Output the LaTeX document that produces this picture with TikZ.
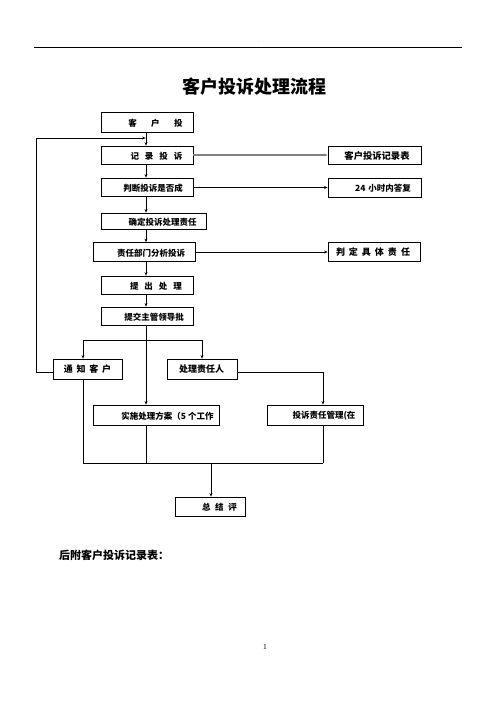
\documentclass[tikz,border=0pt]{standalone}
\usepackage{fontspec}
\setmainfont{Liberation Serif}
\newfontfamily\cjk{Noto Sans CJK SC}
\usetikzlibrary{arrows.meta}
\newcommand{\gp}[1]{\hspace{#1pt}}
\begin{document}
\begin{tikzpicture}[x=1pt,y=-1pt,
  box/.style={draw,line width=0.8pt,inner sep=0pt,minimum width=#1},
  box/.default=92pt,
  lbl/.style={font=\cjk\bfseries\fontsize{8.5}{9}\selectfont,inner sep=0pt},
  con/.style={line width=0.8pt},
  arr/.style={line width=0.8pt,-{Stealth[length=3.5pt,width=3pt]}},
  garr/.style={line width=1.4pt,gray,-{Stealth[length=3.5pt,width=3pt]}}]
\useasboundingbox (0,0) rectangle (496,702);
% header
\coordinate (hl) at (34,47);
\coordinate (hr) at (462,47);
\draw[line width=1pt] (hl) -- (hr);
\node[font=\fontsize{5}{5}\selectfont,text=gray!70,inner sep=0pt] (hd) at (261,42) {.\ .\ .};
% title
\node[font=\cjk\bfseries\fontsize{18}{20}\selectfont,inner sep=0pt] (title) at (254,87) {客户投诉处理流程};
% spine
\coordinate (sp) at (146,0);
% main column boxes
\node[box,minimum height=20pt] (b1) at (147,122) {};
\node[lbl] (b1t) at (155.5,123) {客\gp{14.5}户\gp{14.5}投};
\node[box,minimum height=18pt] (b2) at (147,155) {};
\node[lbl] (b2t) at (156.5,156) {记\gp{6}录\gp{6}投\gp{6}诉};
\node[box,minimum height=18pt] (b3) at (147,187) {};
\node[lbl] (b3t) at (153,188) {判断投诉是否成};
\node[box=105pt,minimum height=16pt] (b4) at (153.5,221) {};
\node[lbl] (b4t) at (162.5,222) {确定投诉处理责任};
\node[box=102pt,minimum height=19pt] (b5) at (144,252) {};
\node[lbl] (b5t) at (151,253) {责任部门分析投诉};
\node[box,minimum height=18pt] (b6) at (147,285) {};
\node[lbl] (b6t) at (156,286) {提\gp{6}出\gp{6}处\gp{6}理};
\node[box,minimum height=18pt] (b7) at (147,316) {};
\node[lbl] (b7t) at (154,317) {提交主管领导批};
% right boxes
\node[box=93pt,minimum height=18pt] (r1) at (374.5,155) {};
\node[lbl,font=\cjk\bfseries\fontsize{9.3}{10}\selectfont] (r1t) at (377,155.5) {客户投诉记录表};
\node[box=93pt,minimum height=19pt] (r2) at (374.5,187.5) {};
\node[lbl] (r2t) at (383,188.5) {24\gp{3}小时内答复};
\node[box=92pt,minimum height=19pt] (r3) at (374,252) {};
\node[lbl,font=\cjk\bfseries\fontsize{9}{10}\selectfont] (r3t) at (373,252.5) {判\gp{4}定\gp{4}具\gp{4}体\gp{4}责\gp{4}任};
% second level
\node[box=69pt,minimum height=20pt] (n1) at (87.5,369) {};
\node[lbl,font=\cjk\bfseries\fontsize{9}{10}\selectfont] (n1t) at (87.5,369.5) {通\gp{3.7}知\gp{3.7}客\gp{3.7}户};
\node[box=70pt,minimum height=20pt] (n2) at (202,369) {};
\node[lbl,font=\cjk\bfseries\fontsize{9}{10}\selectfont] (n2t) at (201.5,369.5) {处理责任人};
\node[box=126pt,minimum height=20pt] (t1) at (156,415) {};
\node[lbl] (t1t) at (167.5,416) {实施处理方案（5\gp{2}个工作};
\node[box=96pt,minimum height=20pt] (t2) at (315,415) {};
\node[lbl] (t2t) at (324,416) {投诉责任管理(在};
\node[box=70pt,minimum height=19pt] (s) at (210,506.5) {};
\node[lbl] (st) at (219.5,507.5) {总\gp{4.7}结\gp{4.7}评};
% coordinates for routing
\coordinate (fbx) at (36,0);
\coordinate (fby) at (0,138);
\coordinate (spl) at (0,340);
\coordinate (x83) at (83,0);
\coordinate (x202) at (202,0);
\coordinate (x323) at (323,0);
\coordinate (mrg) at (0,463);
\coordinate (x211) at (211,0);
% main spine arrows
\draw[con] (b1.south -| sp) -- (fby -| sp);
\draw[arr] (fby -| sp) -- (b2.north -| sp);
\draw[arr] (b2.south -| sp) -- (b3.north -| sp);
\draw[arr] (b3.south -| sp) -- (b4.north -| sp);
\draw[arr] (b4.south -| sp) -- (b5.north -| sp);
\draw[arr] (b5.south -| sp) -- (b6.north -| sp);
\draw[arr] (b6.south -| sp) -- (b7.north -| sp);
\draw[arr] (b7.south -| sp) -- (t1.north -| sp);
% right arrows
\draw[garr] (b2.east) -- (r1.west);
\draw[arr] (b3.east |- r2.west) -- (r2.west);
\draw[arr] (b5.east |- r3.west) -- (r3.west);
% split
\draw[con] (spl -| x83) -- (spl -| x202);
\draw[arr] (spl -| x83) -- (n1.north -| x83);
\draw[arr] (spl -| x202) -- (n2.north -| x202);
% feedback loop
\draw[arr] ([yshift=-3pt]n1.west) -| (fbx |- fby) -- ([xshift=-0.4pt]fby -| sp);
% responsibility person
\draw[arr] ([yshift=-3pt]n2.east) -| (t2.north -| x323);
% merge
\draw[con] (n1.south -| x83) |- (mrg -| x323);
\draw[con] (t1.south -| sp) -- (mrg -| sp);
\draw[con] (t2.south -| x323) -- (mrg -| x323);
\draw[arr] (mrg -| x211) -- (s.north -| x211);
% footer text
\node[font=\cjk\bfseries\fontsize{11}{12}\selectfont,inner sep=0pt,anchor=west] (att) at (59,555) {后附客户投诉记录表：};
\node[font=\fontsize{7.5}{8}\selectfont,inner sep=0pt] (pg) at (265,647) {1};
\end{tikzpicture}
\end{document}
